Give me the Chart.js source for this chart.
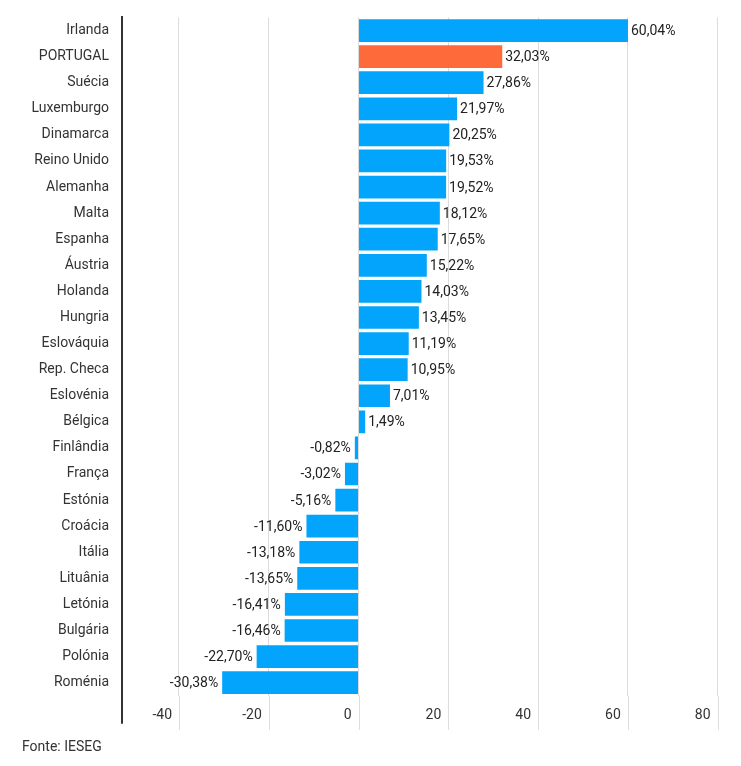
<!DOCTYPE html>
<html>
<head>
<meta charset="utf-8">
<script src="https://cdn.jsdelivr.net/npm/chart.js@4/dist/chart.umd.min.js"></script>
<style>
  html, body { margin: 0; padding: 0; background: #fff; }
  .wrap { position: relative; width: 741px; height: 766px; }
  .source { position: absolute; left: 22px; top: 738px; font: 14px Roboto, sans-serif; color: #333; }
</style>
</head>
<body>
<div class="wrap">
  <canvas id="chart" width="741" height="766"></canvas>
  <div class="source">Fonte: IESEG</div>
</div>
<script>
const countries = ['Irlanda', 'PORTUGAL', 'Suécia', 'Luxemburgo', 'Dinamarca', 'Reino Unido', 'Alemanha',
  'Malta', 'Espanha', 'Áustria', 'Holanda', 'Hungria', 'Eslováquia', 'Rep. Checa', 'Eslovénia', 'Bélgica',
  'Finlândia', 'França', 'Estónia', 'Croácia', 'Itália', 'Lituânia', 'Letónia', 'Bulgária', 'Polónia', 'Roménia'];
const values = [60.04, 32.03, 27.86, 21.97, 20.25, 19.53, 19.52, 18.12, 17.65, 15.22, 14.03, 13.45, 11.19,
  10.95, 7.01, 1.49, -0.82, -3.02, -5.16, -11.60, -13.18, -13.65, -16.41, -16.46, -22.70, -30.38];
const highlight = 'PORTUGAL';

const barColors = countries.map(c => c === highlight ? '#ff6a3b' : '#03a5fc');

// value labels next to each bar end
const valueLabels = {
  id: 'valueLabels',
  afterDatasetsDraw(chart) {
    const ctx = chart.ctx;
    const meta = chart.getDatasetMeta(0);
    ctx.save();
    ctx.font = '14px Roboto';
    ctx.fillStyle = '#222';
    ctx.textBaseline = 'middle';
    meta.data.forEach((bar, i) => {
      const v = values[i];
      const txt = v.toFixed(2).replace('.', ',') + '%';
      if (v >= 0) {
        ctx.textAlign = 'left';
        ctx.fillText(txt, bar.x + 3, bar.y + 1);
      } else {
        ctx.textAlign = 'right';
        ctx.fillText(txt, bar.x - 4, bar.y + 1);
      }
    });
    ctx.restore();
  }
};

// grid lines and the left axis run on below the plot, past the tick labels
const axisTails = {
  id: 'axisTails',
  beforeDatasetsDraw(chart) {
    const { ctx, chartArea, scales } = chart;
    const bottom = chartArea.bottom + 34;
    ctx.save();
    ctx.strokeStyle = '#dcdcdc';
    ctx.lineWidth = 1;
    scales.x.ticks.forEach(t => {
      const x = Math.round(scales.x.getPixelForValue(t.value)) + 0.5;
      ctx.beginPath();
      ctx.moveTo(x, chartArea.bottom);
      ctx.lineTo(x, bottom);
      ctx.stroke();
    });
    ctx.strokeStyle = '#333';
    ctx.lineWidth = 2;
    ctx.beginPath();
    ctx.moveTo(chartArea.left, chartArea.top - 1.5);
    ctx.lineTo(chartArea.left, chartArea.bottom + 28);
    ctx.stroke();
    ctx.restore();
  }
};

new Chart(document.getElementById('chart'), {
  type: 'bar',
  data: {
    labels: countries,
    datasets: [{
      data: values,
      backgroundColor: barColors,
      barPercentage: 0.87,
      categoryPercentage: 1
    }]
  },
  options: {
    indexAxis: 'y',
    responsive: false,
    animation: false,
    layout: { padding: { top: 17.5, right: 10, left: 0, bottom: 31.5 } },
    plugins: { legend: { display: false }, tooltip: { enabled: false } },
    scales: {
      x: {
        min: -52.7,
        max: 83,
        grid: { color: '#dcdcdc', drawTicks: false },
        border: { display: false },
        ticks: {
          stepSize: 20,
          includeBounds: false,
          align: 'end',
          labelOffset: -7,
          padding: 11,
          color: '#333',
          font: { family: 'Roboto', size: 14 }
        }
      },
      y: {
        grid: { display: false, drawTicks: false },
        border: { display: true, color: '#333', width: 2 },
        ticks: {
          padding: 13,
          color: '#333',
          font: { family: 'Roboto', size: 14 }
        },
        afterFit(scale) {
          scale.width = 122;
          scale.paddingTop = 0;
          scale.paddingBottom = 0;
        }
      }
    }
  },
  plugins: [valueLabels, axisTails]
});
</script>
</body>
</html>
